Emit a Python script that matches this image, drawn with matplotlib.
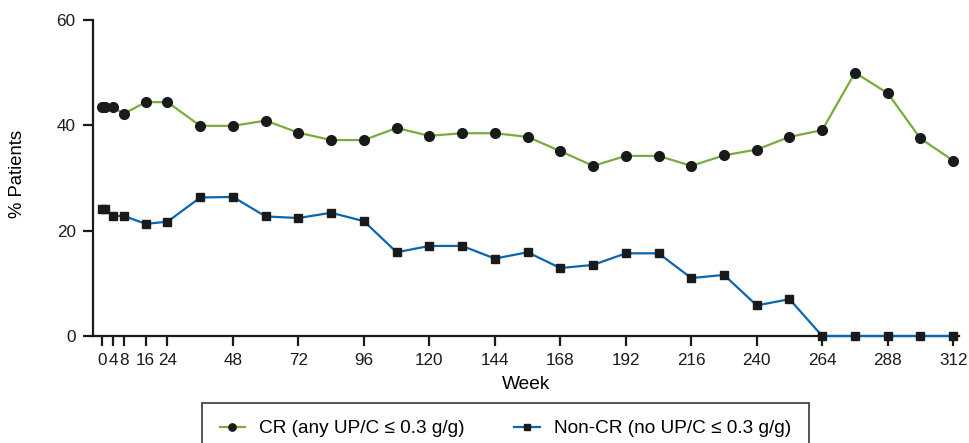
import matplotlib
matplotlib.use("Agg")
from matplotlib import pyplot as plt

plt.rcParams['font.family'] = ['Liberation Sans', 'DejaVu Sans']

weeks = [0, 1, 4, 8, 16, 24, 36, 48, 60, 72, 84, 96, 108, 120, 132, 144, 156, 168,
         180, 192, 204, 216, 228, 240, 252, 264, 276, 288, 300, 312]
cr = [43.4, 43.4, 43.4, 42.2, 44.4, 44.4, 39.9, 39.9, 40.9, 38.6, 37.2, 37.2, 39.5,
      38.0, 38.5, 38.5, 37.8, 35.1, 32.3, 34.2, 34.2, 32.3, 34.3, 35.4, 37.8, 39.1,
      50.0, 46.1, 37.5, 33.3]
non_cr = [24.1, 24.1, 22.8, 22.8, 21.3, 21.7, 26.3, 26.4, 22.7, 22.4, 23.4, 21.8,
          15.9, 17.1, 17.1, 14.7, 15.9, 12.9, 13.5, 15.7, 15.7, 11.0, 11.6, 5.8, 7.0,
          0, 0, 0, 0, 0]
xticks = [0, 4, 8, 16, 24, 48, 72, 96, 120, 144, 168, 192, 216, 240, 264, 288, 312]
yticks = [0, 20, 40, 60]

fig = plt.figure(figsize=(9.69, 4.43), dpi=100)
ax = fig.add_axes([0.096, 0.2415, 0.8933, 0.7134])

ax.plot(weeks, cr, color='#77ad3a', lw=1.6, marker='o', ms=7,
        mfc='#1a1a1a', mec='#1a1a1a', clip_on=False, zorder=3,
        label='CR (any UP/C ≤ 0.3 g/g)')
ax.plot(weeks, non_cr, color='#0a66b0', lw=1.6, marker='s', ms=6,
        mfc='#1a1a1a', mec='#1a1a1a', clip_on=False, zorder=3,
        label='Non-CR (no UP/C ≤ 0.3 g/g)')

ax.set_xlim(-3.3, 314)
ax.set_ylim(0, 60)
ax.set_xticks(xticks)
ax.set_xticklabels([str(t) for t in xticks])
ax.set_yticks(yticks)
ax.tick_params(axis='both', direction='out', length=7.5, width=1.6,
               labelsize=12.3, colors='#1a1a1a', pad=5)

for side in ('top', 'right'):
    ax.spines[side].set_visible(False)
for side in ('left', 'bottom'):
    ax.spines[side].set_linewidth(1.6)
    ax.spines[side].set_color('#1a1a1a')

ax.set_xlabel('Week', fontsize=13.8)
ax.xaxis.set_label_coords(0.5, -0.127)
ax.set_ylabel('% Patients', fontsize=13.3)
ax.yaxis.set_label_coords(-0.0774, 0.513)

leg = fig.legend(loc='upper center', bbox_to_anchor=(0.5217, 0.0905), ncol=2,
                 fontsize=13.7, frameon=True, fancybox=False, edgecolor='#1a1a1a',
                 markerscale=0.75, handlelength=1.35, columnspacing=2.6,
                 borderpad=0.9, handletextpad=0.75, borderaxespad=0)
leg.get_frame().set_linewidth(1.3)

fig.savefig("out.png", dpi=100)
